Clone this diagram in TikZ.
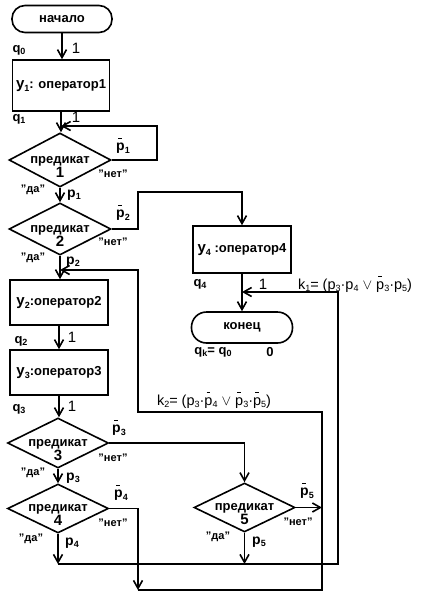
\documentclass[tikz,border=0pt]{standalone}
\usepackage{fontspec}
\setmainfont{Liberation Sans}
\usetikzlibrary{shapes.geometric,arrows.meta}
\newcommand\sbs[1]{\raisebox{-0.35ex}{\fontsize{9}{9}\selectfont #1}}
\newcommand\pb{\leavevmode\rlap{\raisebox{0.82em}{\hspace{0.14em}\rule{0.26em}{0.09em}}}p}
\newcommand\dnum[1]{{\fontsize{15}{15}\selectfont #1}}
\begin{document}
\begin{tikzpicture}[x=1pt,y=-1pt,
  ln/.style={line width=1.6pt},
  arr/.style={line width=1.6pt,-{Straight Barb[length=8pt,width=9pt]}},
  term/.style={draw,line width=1.6pt,rounded corners=13pt,minimum width=100pt,minimum height=27pt,inner sep=0pt,font=\bfseries\fontsize{13}{14}\selectfont},
  blk/.style={draw,line width=1.6pt,minimum width=98pt,minimum height=46pt,inner sep=0pt,font=\bfseries\fontsize{13}{14}\selectfont},
  dia/.style={draw,diamond,line width=1.6pt,minimum width=101pt,minimum height=52pt,inner sep=0pt},
  dtext/.style={font=\bfseries\fontsize{13}{12.5}\selectfont,align=center,inner sep=0pt},
  lab/.style={font=\bfseries\fontsize{14}{14}\selectfont,inner sep=0pt},
  klab/.style={font=\fontsize{14.5}{14}\selectfont,inner sep=0pt},
  one/.style={font=\fontsize{15}{15}\selectfont,inner sep=0pt},
  ql/.style={font=\bfseries\fontsize{13}{13}\selectfont,inner sep=0pt},
  yn/.style={font=\bfseries\fontsize{11}{11}\selectfont,inner sep=0pt}]
\useasboundingbox (0,0) rectangle (434,603);

% nodes
\node[term] (st) at (62,19) {начало};
\node[blk,minimum width=97pt,minimum height=51pt] (b1) at (61,85.5) {{\fontsize{15}{15}\selectfont y\sbs{1}}: оператор1};
\node[dia,minimum width=102pt,minimum height=54pt] (d1) at (60,160) {};
\node[dtext] (t1) at (60,167) {предикат\\\dnum{1}};
\node[dia,minimum width=102pt] (d2) at (60,229) {};
\node[dtext] (t2) at (60,236) {предикат\\\dnum{2}};
\node[blk,minimum height=45pt] (b2) at (59,302.5) {{\fontsize{15}{15}\selectfont y\sbs{2}}:оператор2};
\node[blk,minimum height=45pt] (b3) at (59,372.5) {{\fontsize{15}{15}\selectfont y\sbs{3}}:оператор3};
\node[dia,minimum height=50pt] (d3) at (58,443) {};
\node[dtext] (t3) at (58,450) {предикат\\\dnum{3}};
\node[dia,minimum height=49pt] (d4) at (58,508.5) {};
\node[dtext] (t4) at (58,515) {предикат\\\dnum{4}};
\node[blk,minimum height=47pt] (b4) at (242,249.5) {{\fontsize{15}{15}\selectfont y\sbs{4}} :оператор4};
\node[term,minimum width=101pt,minimum height=31pt,rounded corners=15pt] (en) at (242,327.5) {конец};
\node[dia,minimum height=49pt] (d5) at (244.5,507.5) {};
\node[dtext] (t5) at (244.5,514) {предикат\\\dnum{5}};

% coordinates
\coordinate (c1) at (61,126);
\coordinate (c4) at (138,590);
\coordinate (j1) at (58,564);
\coordinate (j2) at (244.5,564);
\coordinate (j3) at (322,507.5);
\coordinate (k1t) at (242,292);
\coordinate (k2t) at (60,270);

% connectors
\draw[arr] (st.south) -- (st.south |- b1.north);
\draw[arr] (b1.south) -- (b1.south |- d1.north);
\draw[arr] (d1.east) -- ++(45,0) |- (c1);
\draw[arr] (d1.south) -- (d2.north);
\draw[arr] (d2.east) -| (138,192) -| (b4.north);
\draw[arr] (d2.south) -- (d2.south |- b2.north);
\draw[arr] (b2.south) -- (b3.north);
\draw[arr] (b3.south) -- (b3.south |- d3.north);
\draw[arr] (d3.south) -- (d4.north);
\draw[arr] (d3.east) -| (d5.north);
\draw[arr] (d4.east) -| (c4);
\draw[arr] (d4.south) -- (j1);
\draw[arr] (d5.south) -- (j2);
\draw[arr] (d5.east) -- (j3);
\draw[arr] (j1) -- (338,564) |- (k1t);
\draw[arr] (c4) -| (322,412) -| (138,270) -- (k2t);
\draw[arr] (b4.south) -- (en.north);

% labels
\node[ql] (lq0) at (19,50) {q\sbs{0}};
\node[one] (l10) at (76,48) {1};
\node[ql] (lq1) at (19,119) {q\sbs{1}};
\node[one] (l11) at (76,117) {1};
\node[lab] (lp1n) at (123,146) {\pb\sbs{1}};
\node[yn] (ln1) at (113,174) {"нет"};
\node[yn] (ly1) at (33,190) {"да"};
\node[lab] (lp1) at (74,195) {p\sbs{1}};
\node[lab] (lp2n) at (123,213) {\pb\sbs{2}};
\node[yn] (ln2) at (113,242) {"нет"};
\node[yn] (ly2) at (33,258) {"да"};
\node[lab] (lp2) at (73,262) {p\sbs{2}};
\node[ql] (lq2) at (21,341) {q\sbs{2}};
\node[one] (l12) at (72,337) {1};
\node[ql] (lq3) at (19,409) {q\sbs{3}};
\node[one] (l13) at (72,406) {1};
\node[lab] (lp3n) at (119,428) {\pb\sbs{3}};
\node[yn] (ln3) at (113,458) {"нет"};
\node[yn] (ly3) at (33,473) {"да"};
\node[lab] (lp3) at (73,478) {p\sbs{3}};
\node[lab] (lp4n) at (121,493) {\pb\sbs{4}};
\node[yn] (ln4) at (113,523) {"нет"};
\node[yn] (ly4) at (31,539) {"да"};
\node[lab] (lp4) at (72,543) {p\sbs{4}};
\node[ql] (lq4) at (200,284) {q\sbs{4}};
\node[one] (l14) at (263,284) {1};
\node[klab] (lk1) at (355,284) {k\sbs{1}= (p\sbs{3}·p\sbs{4} $\vee$ \pb\sbs{3}·p\sbs{5})};
\node[ql] (lqk) at (213,352) {q\sbs{k}= q\sbs{0}};
\node[ql] (l0) at (270,352) {0};
\node[klab] (lk2) at (214,400) {k\sbs{2}= (p\sbs{3}·\pb\sbs{4} $\vee$ \pb\sbs{3}·\pb\sbs{5})};
\node[lab] (lp5n) at (307,491) {\pb\sbs{5}};
\node[yn] (ln5) at (298,522) {"нет"};
\node[yn] (ly5) at (218,537) {"да"};
\node[lab] (lp5) at (259,542) {p\sbs{5}};
\end{tikzpicture}
\end{document}
